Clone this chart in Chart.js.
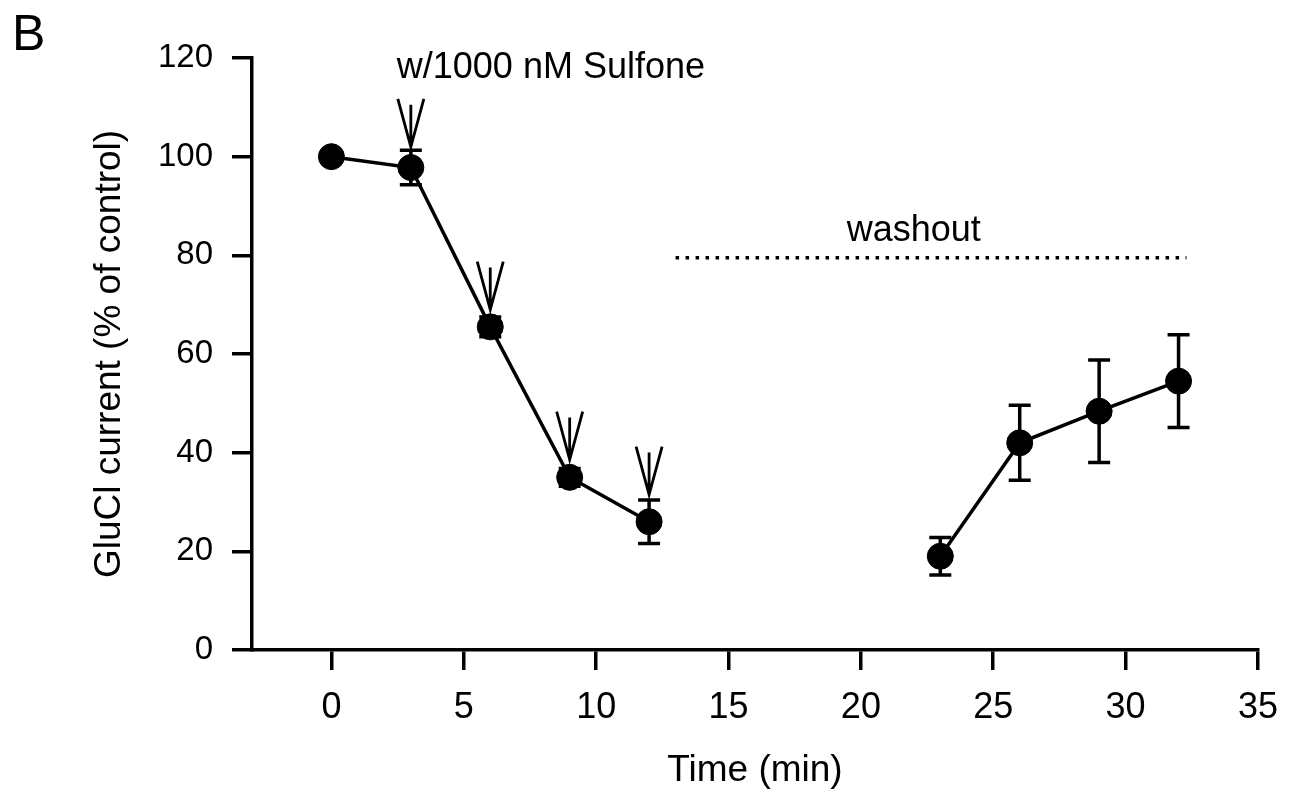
<!DOCTYPE html>
<html>
<head>
<meta charset="utf-8">
<script src="https://cdn.jsdelivr.net/npm/chart.js@4"></script>
<style>
  body { margin: 0; background: #fff; }
</style>
</head>
<body>
<canvas id="line-chart" width="1294" height="795"></canvas>
<script>
// treatment with sulfone
const treatTime = [0, 3, 6, 9, 12];
const treatCurrent = [100, 97.8, 65.5, 35.0, 26.0];
const treatSem = [0, 3.5, 2.0, 1.8, 4.4];

// washout
const washTime = [23, 26, 29, 32];
const washCurrent = [19.0, 42.0, 48.4, 54.5];
const washSem = [3.8, 7.6, 10.4, 9.4];

// application arrows (time, value at arrow tip)
const arrowTime = [3, 6, 9, 12];
const arrowTip = [102, 69, 38.6, 31.5];

// dotted washout bar
const washBarTime = [13, 32.3];
const washBarLevel = [79.5, 79.5];

const xTickValues = [0, 5, 10, 15, 20, 25, 30, 35];
const yTickValues = [0, 20, 40, 60, 80, 100, 120];

const FONT = "'Liberation Sans', Arial, sans-serif";

function toPoints(xs, ys){
    var pts = [];
    for(i = 0; i < xs.length; i++){
        pts.push({x: xs[i], y: ys[i]});
    }
    return pts;
}

const errorBars = {
    id: 'errorBars',
    afterDatasetsDraw(chart){
        const ctx = chart.ctx;
        const xs = chart.scales.x, ys = chart.scales.y;
        const groups = [[treatTime, treatCurrent, treatSem], [washTime, washCurrent, washSem]];
        ctx.save();
        ctx.strokeStyle = '#000';
        ctx.lineWidth = 3.5;
        groups.forEach(function(g){
            for(i = 0; i < g[0].length; i++){
                if(!g[2][i]) continue;
                var px = xs.getPixelForValue(g[0][i]);
                var top = ys.getPixelForValue(g[1][i] + g[2][i]);
                var bot = ys.getPixelForValue(g[1][i] - g[2][i]);
                ctx.beginPath();
                ctx.moveTo(px, top); ctx.lineTo(px, bot);
                ctx.moveTo(px - 11, top); ctx.lineTo(px + 11, top);
                ctx.moveTo(px - 11, bot); ctx.lineTo(px + 11, bot);
                ctx.stroke();
            }
        });
        ctx.restore();
    }
};

const annotations = {
    id: 'annotations',
    afterDraw(chart){
        const ctx = chart.ctx;
        const xs = chart.scales.x, ys = chart.scales.y;
        ctx.save();
        ctx.strokeStyle = '#000';
        ctx.fillStyle = '#000';
        ctx.lineWidth = 2.8;
        for(i = 0; i < arrowTime.length; i++){
            var px = xs.getPixelForValue(arrowTime[i]);
            var py = ys.getPixelForValue(arrowTip[i]);
            ctx.beginPath();
            ctx.moveTo(px - 13, py - 48); ctx.lineTo(px, py); ctx.lineTo(px + 13, py - 48);
            ctx.moveTo(px, py - 42); ctx.lineTo(px, py);
            ctx.stroke();
        }

        ctx.font = '36px ' + FONT;
        ctx.textBaseline = 'middle';
        ctx.textAlign = 'left';
        ctx.fillText('w/1000 nM Sulfone', xs.getPixelForValue(2.47), ys.getPixelForValue(118));
        ctx.textAlign = 'center';
        ctx.fillText('washout', xs.getPixelForValue(22), ys.getPixelForValue(85));

        ctx.font = '50px ' + FONT;
        ctx.textAlign = 'left';
        ctx.textBaseline = 'alphabetic';
        ctx.fillText('B', 12, 50);
        ctx.restore();
    }
};

new Chart(document.getElementById("line-chart"), {
    type: 'line',
    data: {
        datasets: [
            {
                label: 'Sulfone',
                data: toPoints(treatTime, treatCurrent),
                borderColor: '#000',
                backgroundColor: '#000',
                borderWidth: 3.5,
                pointRadius: 13,
                pointBorderWidth: 1
            },
            {
                label: 'washout',
                data: toPoints(washTime, washCurrent),
                borderColor: '#000',
                backgroundColor: '#000',
                borderWidth: 3.5,
                pointRadius: 13,
                pointBorderWidth: 1
            },
            {
                label: 'washout bar',
                data: toPoints(washBarTime, washBarLevel),
                borderColor: '#000',
                borderWidth: 3.5,
                borderDash: [3.5, 6.5],
                pointRadius: 0
            }
        ]
    },
    options: {
        responsive: false,
        animation: false,
        layout: { padding: { top: 58, right: 34, left: 0, bottom: 0 } },
        plugins: {
            legend: { display: false },
            tooltip: { enabled: false }
        },
        scales: {
            x: {
                type: 'linear',
                min: -3,
                max: 35,
                afterBuildTicks: function(scale){
                    scale.ticks = xTickValues.map(function(v){ return {value: v}; });
                },
                afterFit: function(scale){ scale.height = 145; },
                grid: { drawOnChartArea: false, drawTicks: true, tickLength: 20, color: '#000', lineWidth: 3.5 },
                border: { display: true, color: '#000', width: 3.5 },
                ticks: { color: '#000', padding: 16, font: { family: FONT, size: 36 }, maxRotation: 0 },
                title: {
                    display: true,
                    text: 'Time (min)',
                    color: '#000',
                    font: { family: FONT, size: 37 },
                    padding: { top: 0, bottom: 2 }
                }
            },
            y: {
                min: 0,
                max: 120,
                afterBuildTicks: function(scale){
                    scale.ticks = yTickValues.map(function(v){ return {value: v}; });
                },
                afterFit: function(scale){ scale.width = 252; },
                grid: { drawOnChartArea: false, drawTicks: true, tickLength: 20, color: '#000', lineWidth: 3.5 },
                border: { display: true, color: '#000', width: 3.5 },
                ticks: { color: '#000', padding: 19, font: { family: FONT, size: 33 } },
                title: {
                    display: true,
                    text: 'GluCl current (% of control)',
                    color: '#000',
                    font: { family: FONT, size: 37 },
                    padding: { top: 88, bottom: 0 }
                }
            }
        }
    },
    plugins: [errorBars, annotations]
});
</script>
</body>
</html>
